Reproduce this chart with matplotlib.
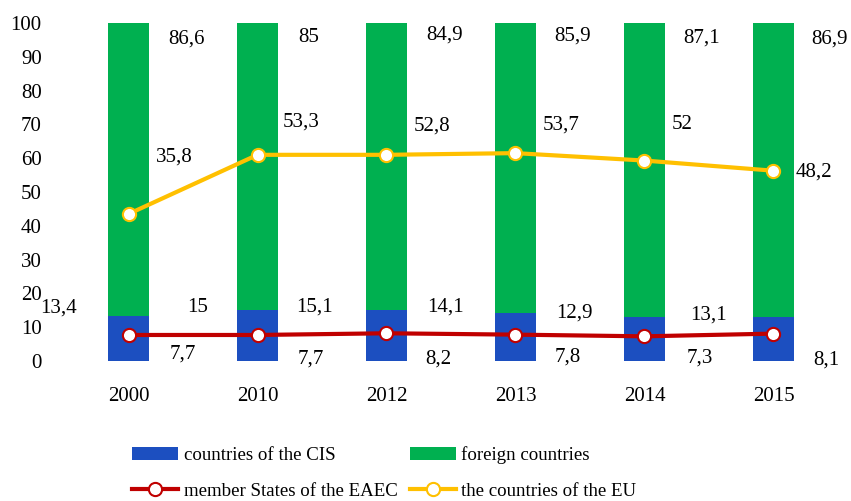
import numpy as np
import matplotlib.pyplot as plt

plt.rcParams['font.family'] = ['Liberation Serif', 'DejaVu Serif']
plt.rcParams['font.size'] = 15

years = ['2000', '2010', '2012', '2013', '2014', '2015']
cis = [13.4, 15, 15.1, 14.1, 12.9, 13.1]
foreign = [86.6, 85, 84.9, 85.9, 87.1, 86.9]
eaec = [7.7, 7.7, 8.2, 7.8, 7.3, 8.1]
eu = [35.8, 53.3, 52.8, 53.7, 52, 48.2]

c_cis = '#1c4fc0'
c_for = '#00b050'
c_eaec = '#c00000'
c_eu = '#ffc000'

def fmt(v):
    return f'{v:g}'.replace('.', ',')

x = np.arange(len(years))
eaec_arr = np.array(eaec)
eu_stack = eaec_arr + np.array(eu)  # lines are stacked

fig = plt.figure(figsize=(8.51, 5.01), dpi=100)
ax = fig.add_axes([64 / 851, 140 / 501, 774 / 851, 338 / 501])

ax.bar(x, cis, width=0.32, color=c_cis, label='countries of the CIS', zorder=1)
ax.bar(x, foreign, width=0.32, bottom=cis, color=c_for, label='foreign countries', zorder=1)
ax.plot(x, eaec_arr, color=c_eaec, lw=3, marker='o', ms=9.5, mfc='white',
        mec=c_eaec, mew=1.5, label='member States of the EAEC', zorder=3)
ax.plot(x, eu_stack, color=c_eu, lw=3, marker='o', ms=9.5, mfc='white',
        mec=c_eu, mew=1.5, label='the countries of the EU', zorder=3)

# label offsets in pixels (right, up)
cis_off = [(-70, 8), (-60, 3), (-72, 3), (-70, 6), (-70, 4), (-65, 2)]
for_off = [(58, -16), (51, -14), (58, -12), (57, -13), (57, -15), (56, -16)]
eaec_off = [(54, -19), (53, -24), (52, -26), (52, -22), (55, -22), (53, -26)]
eu_off = [(46, 57), (44, 33), (46, 29), (46, 28), (38, 36), (40, -1)]

for i in range(len(years)):
    ax.annotate(fmt(cis[i]), (x[i], cis[i]), xytext=cis_off[i],
                textcoords='offset pixels', ha='center', va='center', zorder=5)
    ax.annotate(fmt(foreign[i]), (x[i], cis[i] + foreign[i]), xytext=for_off[i],
                textcoords='offset pixels', ha='center', va='center', zorder=5)
    ax.annotate(fmt(eaec[i]), (x[i], eaec_arr[i]), xytext=eaec_off[i],
                textcoords='offset pixels', ha='center', va='center', zorder=5)
    ax.annotate(fmt(eu[i]), (x[i], eu_stack[i]), xytext=eu_off[i],
                textcoords='offset pixels', ha='center', va='center', zorder=5)

ax.set_xlim(-0.5, len(years) - 0.5)
ax.set_ylim(0, 100)
ax.set_yticks(range(0, 101, 10))
ax.set_xticks(x)
ax.set_xticklabels(years)
ax.tick_params(axis='both', length=0)
ax.tick_params(axis='y', pad=16)
ax.tick_params(axis='x', pad=19)
for s in ax.spines.values():
    s.set_visible(False)
ax.patch.set_alpha(0)

h, l = ax.get_legend_handles_labels()
fig.legend([h[2], h[0], h[3], h[1]], [l[2], l[0], l[3], l[1]],
           ncol=2, loc='upper left', bbox_to_anchor=(132 / 851, 1 - 446 / 501),
           frameon=False, fontsize=13.6, handlelength=2.45, handletextpad=0.3,
           columnspacing=0.62, labelspacing=1.0, borderpad=0, borderaxespad=0)

fig.savefig('out.png', dpi=100)
